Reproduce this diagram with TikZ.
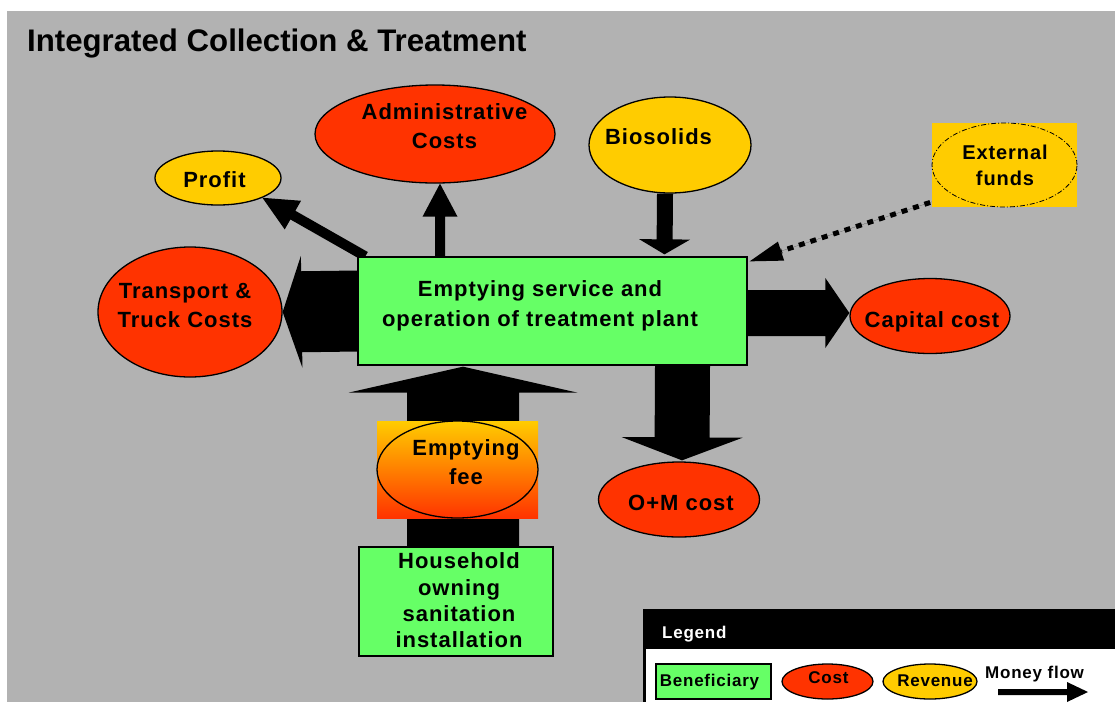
\documentclass[tikz,border=0pt]{standalone}
\usepackage{fontspec}
\setmainfont{Liberation Sans}
\newfontfamily\spaced{Liberation Sans}[LetterSpace=4.5]
\usetikzlibrary{shapes.geometric,calc}

\definecolor{bgGray}{RGB}{178,178,178}
\definecolor{costRed}{RGB}{255,51,0}
\definecolor{revYellow}{RGB}{255,204,0}
\definecolor{benGreen}{RGB}{102,255,102}

\pgfdeclarelayer{bg}
\pgfdeclarelayer{flows}
\pgfsetlayers{bg,flows,main}

% block arrow: start, end, shaft half width, head half width, head length
\newcommand\blockarrow[5]{%
  \path (#1) coordinate (ba-s) (#2) coordinate (ba-e);
  \path ($(ba-e)!#5!(ba-s)$) coordinate (ba-b);
  \fill[flow] ($(ba-s)!#3!90:(ba-e)$) -- ($(ba-b)!#3!-90:(ba-s)$)
    -- ($(ba-b)!#4!-90:(ba-s)$) -- (ba-e) -- ($(ba-b)!#4!90:(ba-s)$)
    -- ($(ba-b)!#3!90:(ba-s)$) -- ($(ba-s)!#3!-90:(ba-e)$) -- cycle;}

\tikzset{
  cost/.style={ellipse, draw=black, line width=1.3pt, fill=costRed, inner sep=0pt},
  revenue/.style={ellipse, draw=black, line width=1.3pt, fill=revYellow, inner sep=0pt},
  benef/.style={rectangle, draw=black, line width=1.3pt, fill=benGreen, inner sep=0pt},
  lbl/.style={font=\spaced\bfseries\fontsize{22}{29.5}\selectfont, align=center, inner sep=0pt},
  leglbl/.style={font=\spaced\bfseries\fontsize{17}{19}\selectfont, inner sep=0pt},
  flow/.style={fill=black},
}

\begin{document}
\begin{tikzpicture}[x=1pt,y=-1pt]
\useasboundingbox (0,0) rectangle (1115,702);
\begin{pgfonlayer}{bg}
  \fill[white] (0,0) rectangle (1115,702);
  \fill[bgGray] (7,11) rectangle (1115,702);
\end{pgfonlayer}

\node[anchor=base west, font=\bfseries\fontsize{31.2}{36}\selectfont, inner sep=0pt] (title) at (27,51) {Integrated Collection \& Treatment};

% central operator
\node[benef, minimum width=389pt, minimum height=108pt] (box) at (552.5,311) {};
\node[lbl] (box-t) at (540,306) {Emptying service and\\operation of treatment plant};

% costs
\node[cost, minimum width=240pt, minimum height=98pt] (admin) at (435,134) {};
\node[lbl] (admin-t) at (444.5,126) {Administrative\\Costs};
\node[cost, minimum width=184pt, minimum height=130pt] (trans) at (190,312) {};
\node[lbl, font=\spaced\bfseries\fontsize{22}{29}\selectfont] (trans-t) at (185,305.5) {Transport \&\\Truck Costs};
\node[cost, minimum width=160pt, minimum height=75pt] (cap) at (930,316) {};
\node[lbl] (cap-t) at (932,322) {Capital cost};
\node[cost, minimum width=161pt, minimum height=75pt] (om) at (679,499.5) {};
\node[lbl] (om-t) at (681,503) {O+M cost};

% revenues
\node[revenue, minimum width=126pt, minimum height=54pt] (profit) at (218,178) {};
\node[lbl] (profit-t) at (214.5,180) {Profit};
\node[revenue, minimum width=162pt, minimum height=96pt] (bio) at (670,145) {};
\node[lbl] (bio-t) at (658.5,137) {Biosolids};

% external funds
\fill[revYellow] (932,123) rectangle (1077,207);
\node[ellipse, draw=black, line width=0.8pt, dash pattern=on 5pt off 2pt on 1pt off 2pt,
      minimum width=145pt, minimum height=84pt, inner sep=0pt] (ext) at (1004.5,165) {};
\node[lbl, font=\spaced\bfseries\fontsize{20}{26}\selectfont] (ext-t) at (1005,165) {External\\funds};

% emptying fee
\shade[top color=revYellow, bottom color=costRed] (377,421) rectangle (538,518);
\node[ellipse, draw=black, line width=1.3pt, minimum width=161pt, minimum height=97pt, inner sep=0pt] (fee) at (457.5,469.5) {};
\node[lbl] (fee-t) at (466,462) {Emptying\\fee};

% household
\node[benef, minimum width=194pt, minimum height=109pt] (house) at (456,601.5) {};
\node[lbl, font=\spaced\bfseries\fontsize{22}{26.3}\selectfont] (house-t) at (459,600.5) {Household\\owning\\sanitation\\installation};

% money flows
\begin{pgfonlayer}{flows}
  \blockarrow{$(box.east)+(0,2)$}{$(cap.west)+(0,-3)$}{23pt}{35pt}{24pt}
  \blockarrow{box.west}{trans.east}{40.5pt}{56pt}{19pt}
  \blockarrow{$(admin.south |- box.north)+(5,0)$}{$(admin.south)+(5,0)$}{5pt}{17.5pt}{33pt}
  \blockarrow{$(box.north west)+(8,0)$}{profit.-24}{5pt}{16.5pt}{35pt}
  \blockarrow{$(bio.south)+(-5,0)$}{$(box.north)+(112,-2)$}{8pt}{25.5pt}{15pt}
  \blockarrow{$(house.north)+(7,0)$}{$(box.south)+(-89.5,1)$}{56pt}{114.5pt}{26pt}
  \blockarrow{$(box.south)+(130,0)$}{$(om.north)+(3,-1)$}{27.5pt}{60.5pt}{23pt}
  \blockarrow{ext.south west}{$(box.north east)+(2,5)$}{0pt}{10pt}{33pt}
  \draw[line width=5pt, dash pattern=on 6pt off 6pt] (ext.south west) -- (ba-b);
\end{pgfonlayer}

% legend
\fill[white] (643,609) rectangle (1115,702);
\fill[black] (643,609) rectangle (1115,649);
\draw[line width=2.5pt] (644.25,609) -- (644.25,702);
\node[leglbl, anchor=base west, text=white] (leg-t) at (662,638.5) {Legend};
\node[benef, minimum width=115pt, minimum height=35pt] (leg-ben) at (713.5,681.5) {};
\node[leglbl] at (709.5,682) {Beneficiary};
\node[cost, minimum width=91pt, minimum height=35pt] (leg-cost) at (827.5,681.5) {};
\node[leglbl] at (828.5,678) {Cost};
\node[revenue, minimum width=94pt, minimum height=35pt] (leg-rev) at (930,681.5) {};
\node[leglbl] at (935,681) {Revenue};
\node[leglbl, anchor=base west] (leg-flow) at (985,678) {Money flow};
\coordinate (mf-s) at (998,692);
\coordinate (mf-e) at (1088,692);
\blockarrow{mf-s}{mf-e}{3pt}{10pt}{21pt}
\end{tikzpicture}
\end{document}
